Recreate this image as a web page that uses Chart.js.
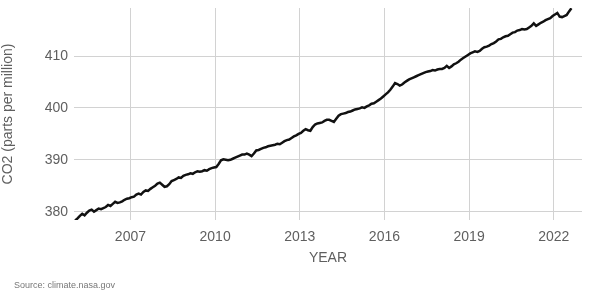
<!DOCTYPE html>
<html>
<head>
<meta charset="utf-8">
<script src="https://cdn.jsdelivr.net/npm/chart.js@4/dist/chart.umd.min.js"></script>
<style>
  html, body { margin: 0; padding: 0; background: #fff; }
  #wrap { position: relative; width: 590px; height: 302px; }
  #source {
    position: absolute; left: 14px; top: 280px;
    font: 9px "Liberation Sans", Arial, sans-serif; color: #777;
  }
</style>
</head>
<body>
<div id="wrap">
  <canvas id="chart" width="590" height="302"></canvas>
  <div id="source">Source: climate.nasa.gov</div>
</div>
<script>
// monthly CO2 (ppm), seasonal cycle removed
const startYear = 2005;
const ppm2005 = [378.3, 378.7, 379.2, 379.6, 379.3, 379.8, 380.2, 380.4, 380.0, 380.3, 380.6, 380.5];
const ppm2006 = [380.7, 380.9, 381.3, 381.1, 381.5, 381.9, 381.7, 381.8, 382.0, 382.3, 382.5, 382.6];
const ppm2007 = [382.8, 382.9, 383.3, 383.5, 383.3, 383.8, 384.1, 384.0, 384.4, 384.7, 385.0, 385.4];
const ppm2008 = [385.6, 385.2, 384.8, 384.9, 385.3, 385.9, 386.1, 386.3, 386.6, 386.5, 386.9, 387.1];
const ppm2009 = [387.2, 387.4, 387.3, 387.6, 387.8, 387.7, 387.8, 388.0, 387.9, 388.2, 388.4, 388.5];
const ppm2010 = [388.6, 389.2, 389.9, 390.1, 390.0, 389.9, 390.0, 390.2, 390.4, 390.6, 390.8, 391.0];
const ppm2011 = [391.0, 391.2, 391.0, 390.7, 391.2, 391.8, 391.9, 392.1, 392.3, 392.4, 392.6, 392.7];
const ppm2012 = [392.8, 392.9, 393.1, 393.0, 393.3, 393.6, 393.8, 393.9, 394.2, 394.5, 394.7, 395.0];
const ppm2013 = [395.2, 395.6, 395.9, 395.7, 395.6, 396.3, 396.8, 397.0, 397.1, 397.2, 397.5, 397.7];
const ppm2014 = [397.7, 397.5, 397.3, 397.9, 398.5, 398.8, 398.9, 399.0, 399.2, 399.3, 399.5, 399.7];
const ppm2015 = [399.8, 399.9, 400.1, 400.0, 400.3, 400.5, 400.8, 400.9, 401.2, 401.5, 401.8, 402.2];
const ppm2016 = [402.6, 403.0, 403.5, 404.1, 404.8, 404.6, 404.3, 404.5, 404.9, 405.2, 405.5, 405.7];
const ppm2017 = [405.9, 406.1, 406.3, 406.5, 406.7, 406.9, 407.0, 407.1, 407.3, 407.2, 407.4, 407.5];
const ppm2018 = [407.5, 407.7, 408.1, 407.7, 408.0, 408.4, 408.6, 408.9, 409.3, 409.6, 409.9, 410.2];
const ppm2019 = [410.5, 410.7, 410.9, 410.8, 411.0, 411.4, 411.7, 411.8, 412.0, 412.3, 412.5, 412.8];
const ppm2020 = [413.2, 413.3, 413.6, 413.8, 413.9, 414.2, 414.5, 414.6, 414.9, 415.0, 415.2, 415.1];
const ppm2021 = [415.2, 415.5, 415.8, 416.3, 415.8, 416.1, 416.4, 416.6, 416.9, 417.1, 417.3, 417.7];
const ppm2022 = [418.0, 418.3, 417.6, 417.5, 417.7, 417.9, 418.6, 419.2];

const yearRows = [ppm2005, ppm2006, ppm2007, ppm2008, ppm2009, ppm2010, ppm2011, ppm2012, ppm2013,
  ppm2014, ppm2015, ppm2016, ppm2017, ppm2018, ppm2019, ppm2020, ppm2021, ppm2022];

const xTicks = [2007, 2010, 2013, 2016, 2019, 2022];
const yTicks = [380, 390, 400, 410];

// points at mid-month, as decimal years
const points = [];
yearRows.forEach((row, yi) => {
  row.forEach((v, m) => {
    points.push({ x: startYear + yi + (m + 0.5) / 12, y: v });
  });
});

const FONT = "'Liberation Sans', Arial, sans-serif";
const GREY = "#5f5f5f";
const GRID = "#d2d2d2";

new Chart(document.getElementById("chart"), {
  type: "line",
  data: {
    datasets: [{
      data: points,
      borderColor: "#111",
      borderWidth: 2.5,
      pointRadius: 0,
      tension: 0,
      fill: false,
    }],
  },
  options: {
    responsive: false,
    animation: false,
    layout: { padding: { left: 0, right: 8, top: 8, bottom: 0 } },
    plugins: { legend: { display: false }, tooltip: { enabled: false } },
    scales: {
      x: {
        type: "linear",
        min: 2005,
        max: 2023,
        afterBuildTicks: (s) => { s.ticks = xTicks.map((v) => ({ value: v })); },
        afterFit: (s) => { s.height = 82; s.paddingLeft = 0; s.paddingRight = 0; },
        border: { display: false },
        grid: { color: GRID, lineWidth: 1, drawTicks: false },
        ticks: {
          padding: 9,
          color: GREY,
          font: { family: FONT, size: 14 },
          callback: (v) => String(v),
        },
        title: {
          display: true,
          text: "YEAR",
          color: GREY,
          font: { family: FONT, size: 14 },
          padding: { top: 0, bottom: 35 },
        },
      },
      y: {
        min: 378.4,
        max: 419.25,
        afterBuildTicks: (s) => { s.ticks = yTicks.map((v) => ({ value: v })); },
        afterFit: (s) => { s.width = 74; s.paddingTop = 0; s.paddingBottom = 0; },
        border: { display: false },
        grid: { color: GRID, lineWidth: 1, drawTicks: false },
        ticks: {
          padding: 6,
          color: GREY,
          font: { family: FONT, size: 14 },
        },
        title: {
          display: true,
          text: "CO2 (parts per million)",
          color: GREY,
          font: { family: FONT, size: 14 },
          padding: { top: 0, bottom: 0 },
        },
      },
    },
  },
});
</script>
</body>
</html>
